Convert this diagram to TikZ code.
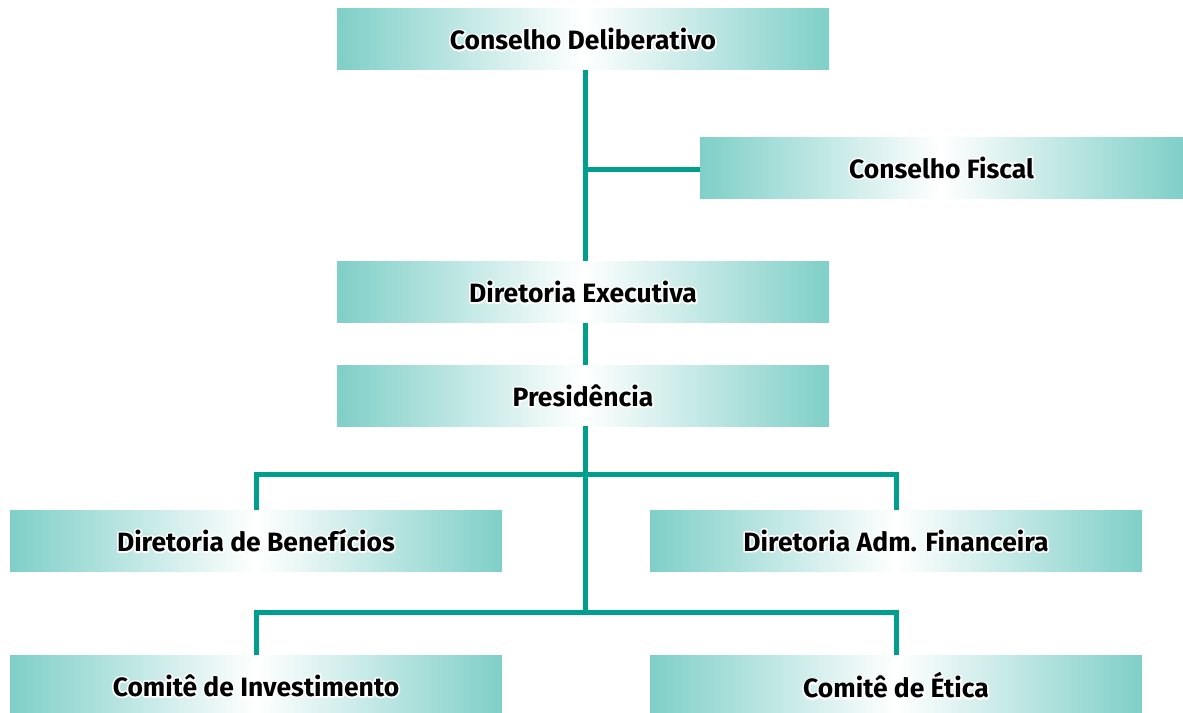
\documentclass[tikz,border=0pt]{standalone}
\usepackage{fontspec}
\setmainfont{Fira Sans}
\usepackage{tikz}
\usetikzlibrary{positioning,calc}
\definecolor{boxteal}{HTML}{7FCFC8}
\definecolor{lineteal}{HTML}{009F8D}
\tikzset{
  unit/.style={minimum width=492pt, minimum height=61pt, inner sep=0pt,
    left color=boxteal, right color=boxteal, middle color=white,
    font=\fontsize{26.5}{30}\selectfont\bfseries},
  link/.style={draw=lineteal, line width=5pt}
}
% white rim round the letters: a stroked copy under the filled one
\newcommand{\halo}[1]{\rlap{\special{pdf:literal direct 1 Tr 1 1 1 RG 3.4 w 1 j}#1\special{pdf:literal direct 0 Tr}}#1}
\begin{document}
\begin{tikzpicture}[x=1pt,y=-1pt]
    \useasboundingbox (0,0) rectangle (1183,712);
    \clip (0,0) rectangle (1183,712);
    % upper boxes
    \node[unit] (cd) at (583,39) {\halo{Conselho Deliberativo}};
    \node[unit, minimum width=483pt] (cf) at (941.5,167.5) {\halo{Conselho Fiscal}};
    \node[unit] (de) at (583,292) {\halo{Diretoria Executiva}};
    \node[unit] (pr) at (583,395.5) {\halo{Presidência}};
    % directorates
    \node[unit] (db) at (256,540.5) {\halo{Diretoria de Benefícios}};
    \node[unit] (da) at (896,540.5) {\halo{Diretoria Adm. Financeira}};
    % committees
    \node[unit] (ci) at (256,685.5) {\halo{Comitê de Investimento}};
    \node[unit] (ce) at (896,685.5) {\halo{Comitê de Ética}};

    % trunk points
    \coordinate (t0) at ([xshift=2.5pt]cd.south);
    \coordinate (t1) at ([xshift=2.5pt]de.north);
    \coordinate (t2) at ([xshift=2.5pt]de.south);
    \coordinate (t3) at ([xshift=2.5pt]pr.north);
    \coordinate (t4) at ([xshift=2.5pt]pr.south);
    \coordinate (jf) at (585.5,169);
    \coordinate (j1) at (585.5,474);
    \coordinate (j2) at (585.5,612);
    \draw[link] (t0) -- (t1);
    \draw[link] (jf) -- (jf -| cf.west);
    \draw[link] (t2) -- (t3);
    \draw[link] (t4) -- (j2);
    \draw[link] (db.north) |- (j1) -| (da.north);
    \draw[link] (ci.north) |- (j2) -| (ce.north);
\end{tikzpicture}
\end{document}
